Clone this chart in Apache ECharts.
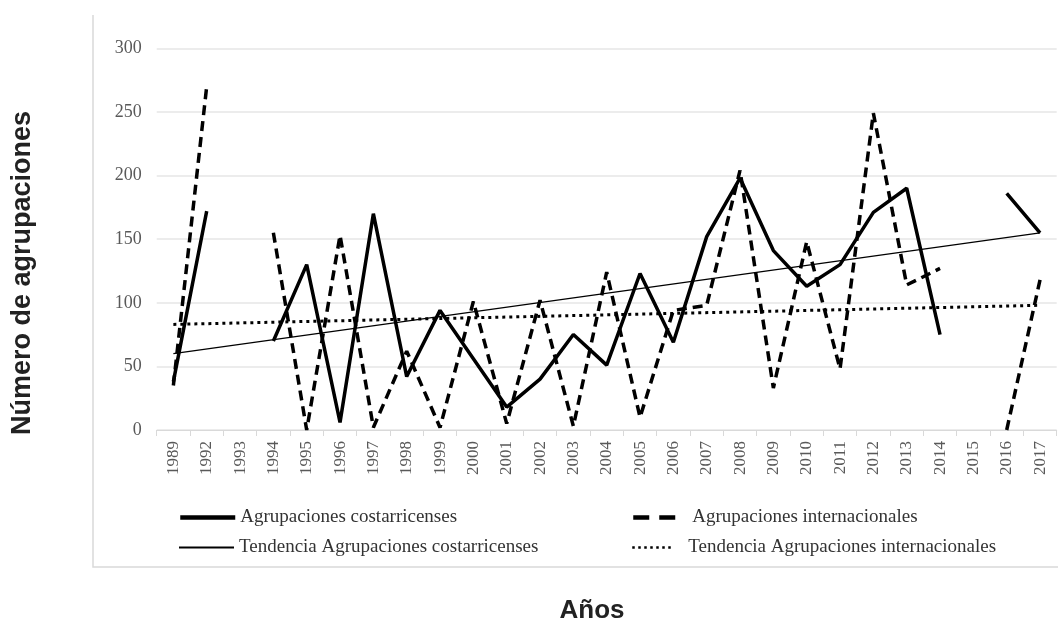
<!DOCTYPE html>
<html>
<head>
<meta charset="utf-8">
<script src="https://cdn.jsdelivr.net/npm/echarts@6/dist/echarts.min.js"></script>
<style>html,body{margin:0;padding:0;background:#fff;}#c{width:1058px;height:621px;}</style>
</head>
<body>
<div id="c"></div>
<script>
const years = ['1989','1992','1993','1994','1995','1996','1997','1998','1999','2000','2001','2002','2003','2004','2005','2006','2007','2008','2009','2010','2011','2012','2013','2014','2015','2016','2017'];
const costarricenses = [38,172,null,70,130,6,170,42,94,56,18,40,75,51,123,69,152,198,141,113,130,171,190,75,null,186,155];
const internacionales = [35,270,null,155,0,153,2,62,2,101,5,102,3,124,10,94,98,204,33,148,48,249,114,127,null,0,118];
const trendCostaEnds = [60,155];
const trendIntlEnds = [83,98];
const yTicks = [0,50,100,150,200,250,300];
const names = ['Agrupaciones costarricenses','Agrupaciones internacionales','Tendencia Agrupaciones costarricenses','Tendencia Agrupaciones internacionales'];

function endsToSeries(ends){
  const a = years.map(()=>null);
  a[0] = ends[0]; a[a.length-1] = ends[1];
  return a;
}

const chart = echarts.init(document.getElementById('c'));
const serif = 'Liberation Serif';
const legendText = {fontFamily: serif, fontSize: 19, color: '#333'};
const hideSym = {opacity: 0, color: 'transparent', borderWidth: 0};
chart.setOption({
  animation: false,
  backgroundColor: '#fff',
  grid: {left: 156.7, right: 1.3, top: 48.3, bottom: 191, containLabel: false},
  graphic: [
    {type:'polyline', shape:{points:[[93,15],[93,567],[1058,567]]}, style:{stroke:'#d9d9d9', lineWidth:1.5, fill:null}, silent:true},
    {type:'text', x:23, y:273, rotation:Math.PI/2, style:{text:'Número de agrupaciones', fontFamily:'Liberation Sans', fontWeight:'bold', fontSize:27, fill:'#222', align:'center', verticalAlign:'middle'}},
    {type:'text', x:592, y:611, style:{text:'Años', fontFamily:'Liberation Sans', fontWeight:'bold', fontSize:26, fill:'#222', align:'center', verticalAlign:'middle'}}
  ],
  legend: [
    {data:[names[0]], left:178, top:508, padding:0, itemWidth:55, itemHeight:14, itemStyle:hideSym, lineStyle:{width:4.5, type:'solid'}, textStyle:legendText},
    {data:[names[2]], left:178, top:538, padding:0, itemWidth:55, itemHeight:14, itemStyle:hideSym, lineStyle:{width:2, type:'solid'}, textStyle:legendText},
    {data:[names[1]], left:631, top:508, padding:0, itemWidth:42, itemHeight:14, itemStyle:hideSym, lineStyle:{type:[16,10], width:4.5}, textStyle:Object.assign({padding:[0,0,0,12]}, legendText)},
    {data:[names[3]], left:631, top:538, padding:0, itemWidth:42, itemHeight:14, itemStyle:hideSym, lineStyle:{type:[2.5,3.5], width:2.5}, textStyle:Object.assign({padding:[0,0,0,9]}, legendText)}
  ],
  xAxis: {
    type:'category', data: years, boundaryGap: true,
    axisLine:{lineStyle:{color:'#d9d9d9', width:1}},
    axisTick:{show:true, length:6, lineStyle:{color:'#d9d9d9'}},
    axisLabel:{rotate:90, interval:0, margin:11, fontFamily:serif, fontSize:17, color:'#595959'}
  },
  yAxis: {
    type:'value', min:0, max:300, interval:50,
    axisLine:{show:false}, axisTick:{show:false},
    splitLine:{lineStyle:{color:'#e6e6e6', width:1.5}},
    axisLabel:{margin:15, fontFamily:serif, fontSize:18, color:'#595959',
      formatter: v => yTicks.includes(v) ? String(v) : ''}
  },
  series: [
    {name:names[0], type:'line', data:costarricenses, symbol:'none', connectNulls:false,
      lineStyle:{color:'#000', width:3.5, type:'solid'}, itemStyle:{color:'#000'}, z:4},
    {name:names[1], type:'line', data:internacionales, symbol:'none', connectNulls:false,
      lineStyle:{color:'#000', width:3.5, type:[10,6]}, itemStyle:{color:'#000'}, z:3},
    {name:names[2], type:'line', data:endsToSeries(trendCostaEnds), symbol:'none', connectNulls:true,
      lineStyle:{color:'#000', width:1.3, type:'solid'}, itemStyle:{color:'#000'}, z:2},
    {name:names[3], type:'line', data:endsToSeries(trendIntlEnds), symbol:'none', connectNulls:true,
      lineStyle:{color:'#000', width:3, type:[3,4]}, itemStyle:{color:'#000'}, z:2}
  ]
});
</script>
</body>
</html>
